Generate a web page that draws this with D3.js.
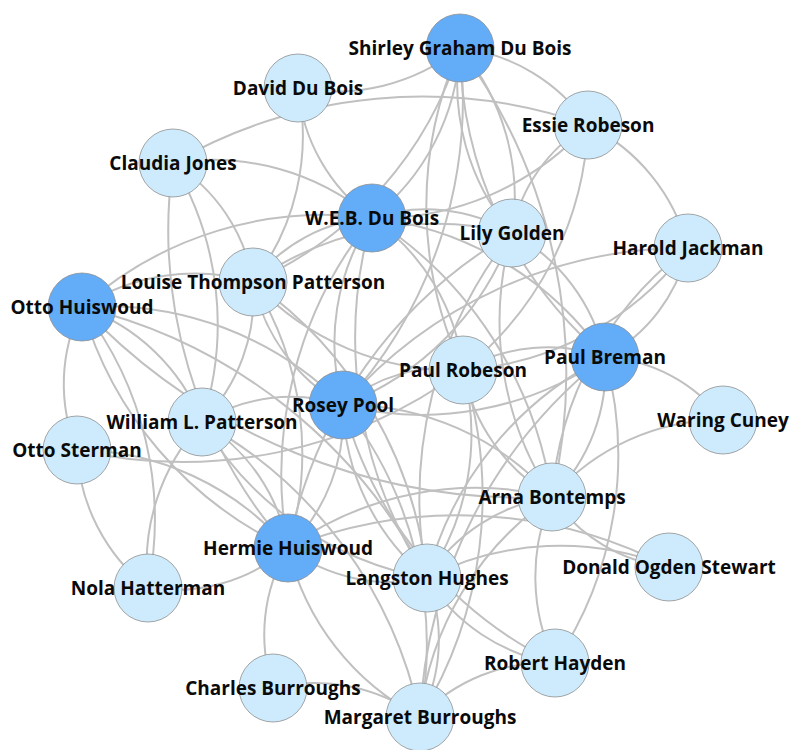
<!DOCTYPE html>
<html>
<head>
<meta charset="utf-8">
<script src="https://cdn.jsdelivr.net/npm/d3@7"></script>
<style>
  body { margin: 0; background: #fff; }
  svg text { font-family: "Open Sans", "Noto Sans", sans-serif; font-weight: 700; }
</style>
</head>
<body>
<div id="chart-area"></div>
<script>
// people in the network, layout position (x, y) and whether they are a hub
const names = [
  "Shirley Graham Du Bois", "David Du Bois", "Essie Robeson", "Claudia Jones",
  "W.E.B. Du Bois", "Lily Golden", "Harold Jackman", "Louise Thompson Patterson",
  "Otto Huiswoud", "Paul Breman", "Paul Robeson", "Rosey Pool",
  "William L. Patterson", "Waring Cuney", "Otto Sterman", "Arna Bontemps",
  "Hermie Huiswoud", "Donald Ogden Stewart", "Nola Hatterman", "Langston Hughes",
  "Charles Burroughs", "Robert Hayden", "Margaret Burroughs"
]
const layoutX = [46.0, 29.8, 58.8, 17.3, 37.2, 51.2, 68.8, 25.3, 8.2, 60.5, 46.3, 34.3,
                 20.2, 72.3, 7.7, 55.2, 28.8, 66.9, 14.8, 42.7, 27.3, 55.5, 42.0]
const layoutY = [4.8, 8.8, 12.5, 16.3, 21.8, 23.3, 24.8, 28.2, 30.7, 35.7, 37.0, 40.5,
                 42.2, 42.0, 45.0, 49.7, 54.8, 56.7, 58.8, 57.8, 68.8, 66.3, 71.7]
const hub = [1, 0, 0, 0, 1, 0, 0, 0, 1, 1, 0, 1, 0, 0, 0, 0, 1, 0, 0, 0, 0, 0, 0]

// connections (source, target)
const linkSource = [
  "Shirley Graham Du Bois", "W.E.B. Du Bois", "David Du Bois", "Shirley Graham Du Bois",
  "Shirley Graham Du Bois", "Shirley Graham Du Bois", "Lily Golden", "Paul Breman",
  "Shirley Graham Du Bois", "Paul Robeson", "Shirley Graham Du Bois", "Shirley Graham Du Bois",
  "Essie Robeson", "Lily Golden", "Essie Robeson", "Essie Robeson",
  "Claudia Jones", "Claudia Jones", "Claudia Jones", "Claudia Jones", "Hermie Huiswoud",
  "W.E.B. Du Bois", "Louise Thompson Patterson", "Otto Huiswoud", "Rosey Pool",
  "W.E.B. Du Bois", "W.E.B. Du Bois", "W.E.B. Du Bois", "Langston Hughes", "Hermie Huiswoud",
  "Lily Golden", "Lily Golden", "Louise Thompson Patterson", "Hermie Huiswoud", "Langston Hughes",
  "Arna Bontemps", "Harold Jackman", "Arna Bontemps", "Harold Jackman", "Rosey Pool",
  "Otto Huiswoud", "Louise Thompson Patterson", "Rosey Pool", "Louise Thompson Patterson",
  "Louise Thompson Patterson", "Paul Robeson", "Otto Sterman", "Otto Huiswoud", "Otto Huiswoud",
  "Hermie Huiswoud", "Otto Huiswoud", "Otto Huiswoud", "Arna Bontemps", "William L. Patterson",
  "William L. Patterson", "Paul Robeson", "William L. Patterson", "Langston Hughes",
  "Nola Hatterman", "Otto Sterman", "Rosey Pool", "Paul Breman", "Rosey Pool", "Rosey Pool",
  "Langston Hughes", "Rosey Pool", "Robert Hayden", "Paul Robeson", "Arna Bontemps",
  "Paul Robeson", "Paul Robeson", "Paul Breman", "Paul Breman", "Paul Breman", "Langston Hughes",
  "Margaret Burroughs", "Arna Bontemps", "Donald Ogden Stewart", "Langston Hughes",
  "Robert Hayden", "Margaret Burroughs", "Hermie Huiswoud", "Hermie Huiswoud", "Nola Hatterman",
  "Langston Hughes", "Charles Burroughs", "Margaret Burroughs", "Langston Hughes",
  "Robert Hayden", "Langston Hughes", "Margaret Burroughs", "Charles Burroughs", "Hermie Huiswoud"
]
const linkTarget = [
  "David Du Bois", "David Du Bois", "Louise Thompson Patterson", "Essie Robeson",
  "W.E.B. Du Bois", "Lily Golden", "Shirley Graham Du Bois", "Shirley Graham Du Bois",
  "Rosey Pool", "Shirley Graham Du Bois", "Arna Bontemps", "Louise Thompson Patterson",
  "Harold Jackman", "Essie Robeson", "Paul Robeson", "W.E.B. Du Bois",
  "Essie Robeson", "W.E.B. Du Bois", "Louise Thompson Patterson", "William L. Patterson", "Claudia Jones",
  "Lily Golden", "W.E.B. Du Bois", "W.E.B. Du Bois", "W.E.B. Du Bois",
  "Paul Breman", "Paul Robeson", "Arna Bontemps", "W.E.B. Du Bois", "W.E.B. Du Bois",
  "Paul Breman", "Rosey Pool", "Lily Golden", "Lily Golden", "Lily Golden",
  "Lily Golden", "Paul Breman", "Harold Jackman", "Paul Robeson", "Harold Jackman",
  "Louise Thompson Patterson", "William L. Patterson", "Louise Thompson Patterson", "Hermie Huiswoud",
  "Langston Hughes", "Louise Thompson Patterson", "Otto Huiswoud", "William L. Patterson", "Rosey Pool",
  "Otto Huiswoud", "Nola Hatterman", "Langston Hughes", "Otto Huiswoud", "Rosey Pool",
  "Hermie Huiswoud", "Otto Sterman", "Margaret Burroughs", "William L. Patterson",
  "Otto Sterman", "Hermie Huiswoud", "Paul Robeson", "Rosey Pool", "Arna Bontemps", "Hermie Huiswoud",
  "Rosey Pool", "Margaret Burroughs", "Rosey Pool", "Paul Breman", "Paul Robeson",
  "Langston Hughes", "Margaret Burroughs", "Waring Cuney", "Arna Bontemps", "Robert Hayden", "Paul Breman",
  "Paul Breman", "Waring Cuney", "Arna Bontemps", "Arna Bontemps",
  "Arna Bontemps", "Arna Bontemps", "Arna Bontemps", "Nola Hatterman", "William L. Patterson",
  "Hermie Huiswoud", "Hermie Huiswoud", "Hermie Huiswoud", "Margaret Burroughs",
  "Langston Hughes", "Donald Ogden Stewart", "Robert Hayden", "Margaret Burroughs", "Donald Ogden Stewart"
]

const WIDTH = 792
const HEIGHT = 750
const RADIUS = 34

let svg = d3.select("#chart-area").append("svg")
  .attr("width", WIDTH)
  .attr("height", HEIGHT)

let x = d3.scaleLinear().domain([0, 79.2]).range([0, WIDTH])
let y = d3.scaleLinear().domain([0, 75]).range([0, HEIGHT])

let nodes = names.map((n, i) => ({name: n, x: x(layoutX[i]), y: y(layoutY[i]), hub: hub[i]}))
let byName = {}
nodes.forEach(d => byName[d.name] = d)
let links = linkSource.map((s, i) => ({source: byName[s], target: byName[linkTarget[i]]}))

// curved edges
svg.append("g")
  .selectAll("path")
  .data(links)
  .enter().append("path")
  .attr("fill", "none")
  .attr("stroke", "#c0c0c0")
  .attr("stroke-width", 2)
  .attr("d", d => {
    let dx = d.target.x - d.source.x
    let dy = d.target.y - d.source.y
    let dr = Math.sqrt(dx * dx + dy * dy) * 1.2
    return `M${d.source.x},${d.source.y}A${dr},${dr} 0 0,1 ${d.target.x},${d.target.y}`
  })

svg.append("g")
  .selectAll("circle")
  .data(nodes)
  .enter().append("circle")
  .attr("cx", d => d.x)
  .attr("cy", d => d.y)
  .attr("r", RADIUS)
  .attr("fill", d => d.hub ? "#62acf8" : "#cdebfc")
  .attr("stroke", "#8f8f8f")
  .attr("stroke-width", 0.8)

svg.append("g")
  .selectAll("text")
  .data(nodes)
  .enter().append("text")
  .attr("x", d => d.x)
  .attr("y", d => d.y)
  .attr("dy", "0.36em")
  .attr("text-anchor", "middle")
  .attr("font-size", "19px")
  .attr("fill", "#0a0a0a")
  .text(d => d.name)
</script>
</body>
</html>
